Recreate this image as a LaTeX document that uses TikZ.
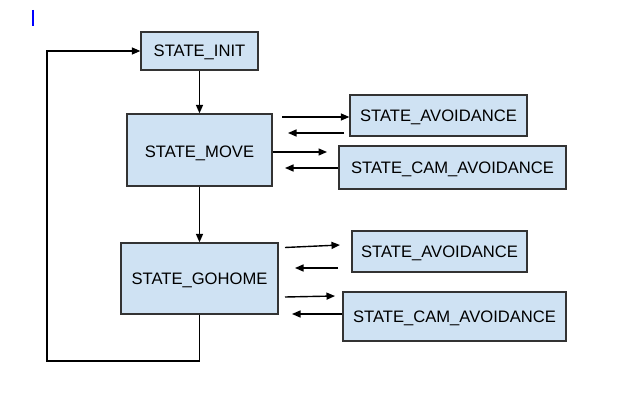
\documentclass[tikz,border=0pt]{standalone}
\usepackage{fontspec}
\setmainfont{Liberation Sans}
\usetikzlibrary{arrows.meta}
\definecolor{boxfill}{HTML}{CFE2F3}
\definecolor{boxline}{HTML}{333333}
\tikzset{
  state/.style={draw=boxline, fill=boxfill, line width=1.3pt, inner sep=0pt,
    font=\fontsize{16.6}{19}\selectfont, text height=11.9pt, text depth=0pt},
  arr/.style={draw=black, line width=1.4pt, -{Triangle[length=8.5pt,width=7pt]}}
}
\begin{document}
\begin{tikzpicture}[x=1pt,y=-1pt]
\useasboundingbox (0,0) rectangle (621,414);
\draw[blue, line width=1.6pt] (33,10) -- (33,26);
\node[state, minimum width=117pt, minimum height=38pt] (INIT) at (199.5,51) {STATE\_INIT};
\node[state, minimum width=145pt, minimum height=72pt] (MOVE) at (199.5,150) {\raisebox{-2pt}{STATE\_MOVE}};
\node[state, minimum width=157pt, minimum height=71pt] (GOHOME) at (199.5,278.5) {STATE\_GOHOME};
\node[state, minimum width=177pt, minimum height=41pt] (AV1) at (438.5,115.5) {STATE\_AVOIDANCE};
\node[state, minimum width=227pt, minimum height=43pt] (CAM1) at (452.5,167.5) {STATE\_CAM\_AVOIDANCE};
\node[state, minimum width=175pt, minimum height=41pt] (AV2) at (439.5,251.5) {STATE\_AVOIDANCE};
\node[state, minimum width=223pt, minimum height=49pt] (CAM2) at (454.5,316.5) {STATE\_CAM\_AVOIDANCE};
% vertical flow
\draw[arr] (INIT.south) -- (MOVE.north);
\draw[arr] (MOVE.south) -- (GOHOME.north);
% loop back
\coordinate (lp) at (47,361);
\draw[arr] (GOHOME.south) -- (GOHOME.south |- lp) -- (lp) |- (INIT.west);
% group 1
\coordinate (a1s) at (282,117);
\draw[arr] (a1s) -- (AV1.west |- a1s);
\coordinate (a2s) at (344,133);
\coordinate (a2e) at (288,133);
\draw[arr] (a2s) -- (a2e);
\coordinate (a3e) at (327,152);
\draw[arr] (MOVE.east |- a3e) -- (a3e);
\coordinate (a4e) at (285,168);
\draw[arr] (CAM1.west |- a4e) -- (a4e);
% group 2
\coordinate (b1s) at (285,247.5);
\coordinate (b1e) at (340,245);
\draw[arr] (b1s) -- (b1e);
\coordinate (b2s) at (338,268);
\coordinate (b2e) at (295,268);
\draw[arr] (b2s) -- (b2e);
\coordinate (b3s) at (285,297);
\coordinate (b3e) at (335,296);
\draw[arr] (b3s) -- (b3e);
\coordinate (b4e) at (292,314);
\draw[arr] (CAM2.west |- b4e) -- (b4e);
\end{tikzpicture}
\end{document}
